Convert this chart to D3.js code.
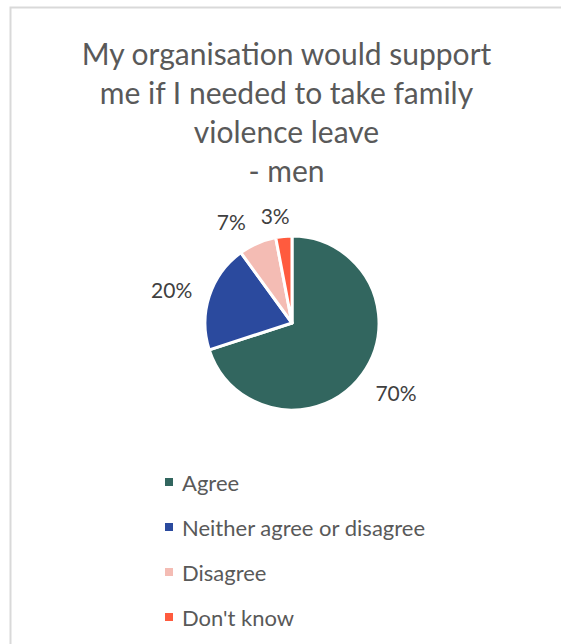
<!DOCTYPE html>
<html>
<head>
<meta charset="utf-8">
<script src="https://cdn.jsdelivr.net/npm/d3@7"></script>
<style>
  html, body { margin: 0; padding: 0; background: #fff; }
  svg { display: block; }
  text { font-family: Lato, "Open Sans", sans-serif; }
</style>
</head>
<body>
<svg id="chart" width="561" height="644"></svg>
<script>
// Survey responses (percent)
const categories = ["Agree", "Neither agree or disagree", "Disagree", "Don't know"];
const values = [70, 20, 7, 3];
const colors = ["#32665F", "#2B4A9E", "#F4BCB4", "#FF5B3E"];
const titleLines = ["My organisation would support", "me if I needed to take family", "violence leave", "- men"];

const W = 561, H = 644;
const svg = d3.select("#chart");

// chart area frame
svg.append("rect")
  .attr("x", 10.5).attr("y", 7.5)
  .attr("width", W + 10).attr("height", H + 10)
  .attr("fill", "#fff")
  .attr("stroke", "#d9d9d9")
  .attr("stroke-width", 2);

// title
svg.append("g").selectAll("text")
  .data(titleLines)
  .join("text")
  .attr("x", 286.5)
  .attr("y", (d, i) => 65 + i * 39)
  .attr("text-anchor", "middle")
  .attr("fill", "#595959")
  .attr("font-size", 30)
  .text(d => d);

// pie
const cx = 292, cy = 323, r = 87;
const color = d3.scaleOrdinal().domain(categories).range(colors);
const pie = d3.pie().sort(null).value(d => d.value);
const data = categories.map((c, i) => ({ cat: c, value: values[i] }));
const arcs = pie(data);
const arc = d3.arc().innerRadius(0).outerRadius(r);
const labelArc = d3.arc().innerRadius(r + 28).outerRadius(r + 28);

const g = svg.append("g").attr("transform", `translate(${cx},${cy})`);
g.selectAll("path")
  .data(arcs)
  .join("path")
  .attr("d", arc)
  .attr("fill", d => color(d.data.cat))
  .attr("stroke", "#fff")
  .attr("stroke-width", 3)
  .attr("stroke-linejoin", "round");

// data labels, placed outside each slice with a small best-fit nudge
const labelOffsets = [[11, 2], [-11, 2.5], [-15, 4.5], [-6, 6.5]];
g.selectAll("text.lbl")
  .data(arcs)
  .join("text")
  .attr("class", "lbl")
  .attr("transform", (d, i) => {
    const [x, y] = labelArc.centroid(d);
    return `translate(${x + labelOffsets[i][0]},${y + labelOffsets[i][1]})`;
  })
  .attr("text-anchor", "middle")
  .attr("dominant-baseline", "central")
  .attr("fill", "#404040")
  .attr("font-size", 21)
  .text(d => d.data.value + "%");

// legend
const legend = svg.append("g").attr("transform", "translate(165,482)");
const rows = legend.selectAll("g")
  .data(categories)
  .join("g")
  .attr("transform", (d, i) => `translate(0,${i * 45})`);
rows.append("rect")
  .attr("x", 0).attr("y", -4)
  .attr("width", 8).attr("height", 8)
  .attr("fill", d => color(d));
rows.append("text")
  .attr("x", 17).attr("y", 0)
  .attr("dominant-baseline", "central")
  .attr("fill", "#595959")
  .attr("font-size", 22)
  .text(d => d);
</script>
</body>
</html>
